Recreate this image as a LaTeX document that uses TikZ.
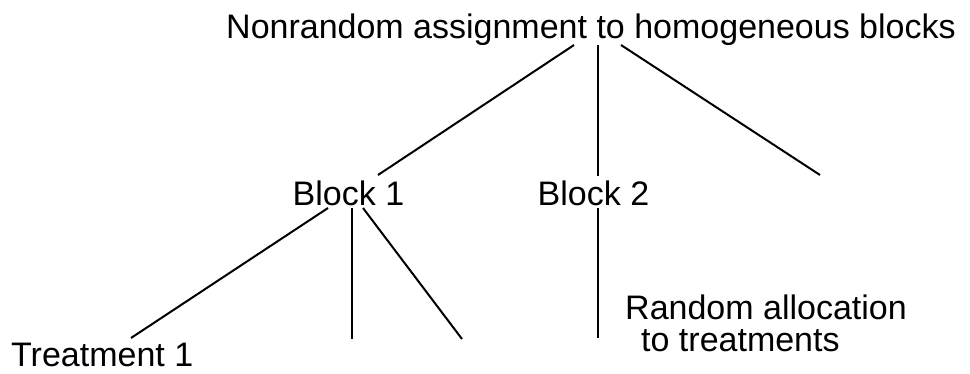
\documentclass[tikz,border=0pt]{standalone}
\usepackage{fontspec}
\setmainfont{Liberation Sans}
\begin{document}
\begin{tikzpicture}[x=1pt,y=-1pt,
  lbl/.style={anchor=base west,inner sep=0pt,font=\fontsize{34}{40}\selectfont},
  branch/.style={line width=2pt,line cap=butt}]
\useasboundingbox (0,0) rectangle (970,373);
\node[lbl] (top) at (226,38) {Nonrandom assignment to homogeneous blocks};
\node[lbl] (b1) at (292.5,205) {Block 1};
\node[lbl] (b2) at (537.5,205) {Block 2};
\node[lbl] (t1) at (11,366) {Treatment 1};
\node[lbl] (ra) at (625,319) {Random allocation};
\node[lbl] (rb) at (641,351) {to treatments};
% top branch points
\coordinate (tL) at (574,45);
\coordinate (tM) at (598,45);
\coordinate (tR) at (621,45);
\coordinate (eL) at (378,175);
\coordinate (eM) at (598,176);
\coordinate (eR) at (820,175);
\draw[branch] (tL) -- (eL);
\draw[branch] (tM) -- (eM);
\draw[branch] (tR) -- (eR);
% block 1 branches
\coordinate (aL) at (328,208);
\coordinate (aM) at (352,208);
\coordinate (aR) at (363,208);
\coordinate (fL) at (131,338);
\coordinate (fM) at (352,339);
\coordinate (fR) at (462,339);
\draw[branch] (aL) -- (fL);
\draw[branch] (aM) -- (fM);
\draw[branch] (aR) -- (fR);
% block 2 branch
\coordinate (cM) at (598,208);
\coordinate (gM) at (598,338);
\draw[branch] (cM) -- (gM);
\end{tikzpicture}
\end{document}
